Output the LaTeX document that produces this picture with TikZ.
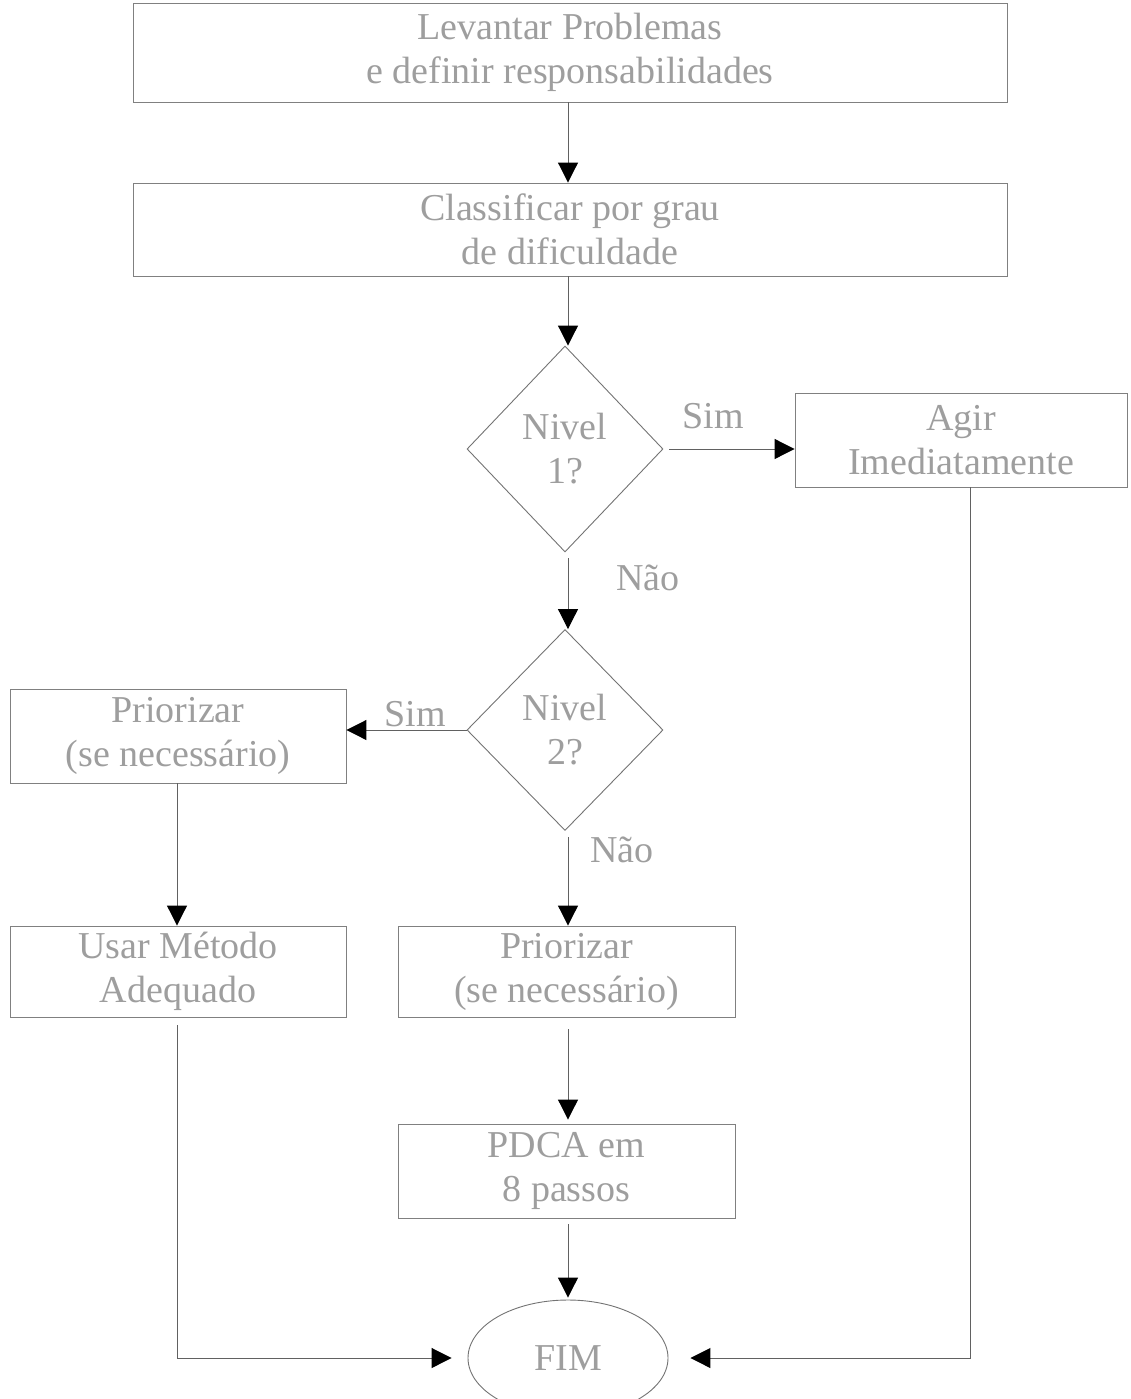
\documentclass[tikz,border=0pt]{standalone}
\usepackage{fontspec}
\setmainfont{Liberation Serif}
\usetikzlibrary{shapes.geometric,arrows.meta,calc}
\begin{document}
\begin{tikzpicture}[x=1pt,y=-1pt,
  txt/.style={text=black!38,font=\fontsize{38}{44}\selectfont,align=center},
  procbox/.style={txt,draw=black!50,line width=0.9pt,rectangle,inner sep=0pt},
  decis/.style={txt,draw=black!55,line width=0.9pt,diamond,inner sep=0pt},
  conn/.style={draw=black!62,line width=1pt,-{Triangle[length=20pt,width=20pt,color=black]}},
  lbl/.style={txt}]
\useasboundingbox (0,0) rectangle (1130,1399);
\node[procbox,minimum width=874pt,minimum height=99pt] (b1) at (570,52.5) {Levantar Problemas\\e definir responsabilidades};
\node[procbox,minimum width=874pt,minimum height=93pt] (b2) at (570,229.5) {Classificar por grau\\de dificuldade};
\node[decis,minimum width=196pt,minimum height=206pt] (d1) at (565,449) {Nivel\\1?};
\node[procbox,minimum width=332pt,minimum height=94pt] (agir) at (961,440) {Agir\\Imediatamente};
\node[decis,minimum width=196pt,minimum height=201pt] (d2) at (565,730) {Nivel\\2?};
\node[procbox,minimum width=336pt,minimum height=94pt] (pl) at (178,736) {Priorizar\\(se necessário)};
\node[procbox,minimum width=336pt,minimum height=91pt] (ul) at (178,971.5) {Usar Método\\Adequado};
\node[procbox,minimum width=337pt,minimum height=91pt] (pm) at (566.5,971.5) {Priorizar\\(se necessário)};
\node[procbox,minimum width=337pt,minimum height=94pt] (pdca) at (566.5,1171) {PDCA em\\8 passos};
\node[txt,draw=black!55,line width=0.9pt,ellipse,minimum width=200pt,minimum height=116pt,inner sep=0pt] (fim) at (568,1358) {FIM};
\node[lbl] (s1) at (713,416) {Sim};
\node[lbl] (n1) at (648,578) {Não};
\node[lbl] (s2) at (415,714) {Sim};
\node[lbl] (n2) at (622,850) {Não};
\coordinate (cr) at (970,0);
\coordinate (cl) at (177,0);
\coordinate (cm) at (568,0);
\draw[conn] (b1.south -| cm) -- (b2.north -| cm);
\draw[conn] (b2.south -| cm) -- (d1.north -| cm);
\draw[conn,shorten <=6pt] (d1.east) -- (agir.west |- d1.east);
\draw[conn,shorten <=6pt] (d1.south -| cm) -- (d2.north -| cm);
\draw[conn] (d2.west) -- (pl.east |- d2.west);
\draw[conn,shorten <=6pt] (d2.south -| cm) -- (pm.north -| cm);
\draw[conn] (pl.south -| cl) -- (ul.north -| cl);
\draw[conn,shorten <=12pt,shorten >=4pt] (pm.south -| cm) -- (pdca.north -| cm);
\draw[conn,shorten <=6pt,shorten >=2pt] (pdca.south -| cm) -- (fim.north -| cm);
\draw[conn,shorten <=8pt,shorten >=16pt] (ul.south -| cl) |- (fim.west);
\draw[conn,shorten >=22pt] (agir.south -| cr) |- (fim.east);
\end{tikzpicture}
\end{document}
